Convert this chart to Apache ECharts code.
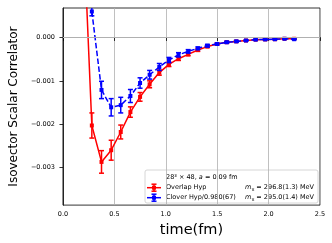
<!DOCTYPE html>
<html><head><meta charset="utf-8">
<script src="https://cdn.jsdelivr.net/npm/echarts@6/dist/echarts.min.js"></script>
<style>html,body{margin:0;padding:0;background:#fff}#c{width:332px;height:243px}</style>
</head><body><div id="c"></div>
<script>
// time values (fm)
var tOverlap = [0.187,0.281,0.375,0.469,0.562,0.656,0.750,0.843,0.937,1.031,1.124,1.218,1.312,1.405,1.499,1.593,1.686,1.780,1.874,1.967,2.061,2.155,2.249];
var overlapVals = [0.0032,-0.00203,-0.00287,-0.00260,-0.00218,-0.00172,-0.00137,-0.00108,-0.00081,-0.00062,-0.00049,-0.00039,-0.00029,-0.00021,-0.00015,-0.00011,-0.00009,-0.00007,-0.00005,-0.000045,-0.00004,-0.00003,-0.00003];
var overlapErr = [0.0003,0.00029,0.00026,0.00023,0.00016,0.00012,0.00010,0.00008,0.00006,0.00005,0.00004,0.00003,0.00003,0.00002,0.00002,0.00002,0.00001,0.00001,0.00001,0.00001,0.00001,0.00001,0.00001];
var tClover = [0.281,0.375,0.469,0.562,0.656,0.750,0.843,0.937,1.031,1.124,1.218,1.312,1.405,1.499,1.593,1.686,1.780,1.874,1.967,2.061,2.155,2.249];
var cloverVals = [0.0006,-0.00121,-0.00161,-0.00156,-0.00135,-0.00105,-0.00086,-0.00068,-0.00052,-0.00040,-0.00032,-0.00025,-0.00019,-0.00015,-0.00011,-0.00009,-0.00007,-0.00005,-0.000045,-0.00004,-0.00003,-0.00004];
var cloverErr = [0.0001,0.00020,0.00020,0.00018,0.00015,0.00012,0.00010,0.00008,0.00006,0.00005,0.00004,0.00003,0.00003,0.00002,0.00002,0.00002,0.00001,0.00001,0.00001,0.00001,0.00001,0.00001];
var xTicks = [0, 0.5, 1.0, 1.5, 2.0, 2.5];
var yTicks = [-0.003, -0.002, -0.001, 0.000];
var legendTitle = '28³ × 48, ';
var seriesNames = ['Overlap Hyp', 'Clover Hyp/0.980(67)'];
var massTexts = ['296.8(1.3) MeV', '295.0(1.4) MeV'];

var FONT = 'DejaVu Sans';
var RED = '#ff0000', BLUE = '#0000ff';

function pairs(t, v, e) { return t.map(function (x, i) { return [x, v[i], e[i]]; }); }

function errRender(color) {
  return function (params, api) {
    var x = api.value(0), y = api.value(1), e = api.value(2);
    var top = api.coord([x, y + e]), bot = api.coord([x, y - e]);
    var cw = 2.5;
    var st = { stroke: color, lineWidth: 1.5 };
    return { type: 'group', children: [
      { type: 'line', shape: { x1: top[0], y1: top[1], x2: bot[0], y2: bot[1] }, style: st },
      { type: 'line', shape: { x1: top[0] - cw, y1: top[1], x2: top[0] + cw, y2: top[1] }, style: st },
      { type: 'line', shape: { x1: bot[0] - cw, y1: bot[1], x2: bot[0] + cw, y2: bot[1] }, style: st }
    ]};
  };
}

function fmtY(v) {
  var s = Math.abs(v).toFixed(3);
  return (v < -1e-9 ? '\u2212' : '') + s;
}

var chart = echarts.init(document.getElementById('c'), null, { renderer: 'canvas' });
var gridLeft = 53.3, gridTop = 8, gridRight = 12, gridBottom = 36;

function legendIcon(cx, cy, color, dashed) {
  return [
    { type: 'line', shape: { x1: cx - 7, y1: cy, x2: cx + 7, y2: cy }, style: { stroke: color, lineWidth: 1.5, lineDash: dashed ? [4, 2] : null } },
    { type: 'line', shape: { x1: cx, y1: cy - 3.5, x2: cx, y2: cy + 3.5 }, style: { stroke: color, lineWidth: 1.5 } },
    { type: 'line', shape: { x1: cx - 2.5, y1: cy - 3.5, x2: cx + 2.5, y2: cy - 3.5 }, style: { stroke: color, lineWidth: 1.5 } },
    { type: 'line', shape: { x1: cx - 2.5, y1: cy + 3.5, x2: cx + 2.5, y2: cy + 3.5 }, style: { stroke: color, lineWidth: 1.5 } },
    { type: 'rect', shape: { x: cx - 2, y: cy - 2, width: 4, height: 4 }, style: { fill: color } }
  ];
}

var legFont = 6.5;
var richM = {
  i: { fontFamily: FONT, fontSize: legFont, fontStyle: 'italic', fill: '#000' },
  s: { fontFamily: FONT, fontSize: 4.8, fill: '#000', padding: [4, 0, 0, 0] },
  n: { fontFamily: FONT, fontSize: legFont, fill: '#000' }
};

var option = {
  animation: false,
  backgroundColor: '#fff',
  grid: { left: gridLeft, right: gridRight, top: gridTop, bottom: gridBottom, show: true, borderColor: '#000', borderWidth: 0.8, backgroundColor: 'transparent' },
  xAxis: {
    type: 'value', min: 0, max: 2.5, interval: 0.5,
    name: 'time(fm)', nameLocation: 'middle', nameGap: 13,
    nameTextStyle: { fontFamily: FONT, fontSize: 14.5, color: '#000' },
    axisLine: { show: true, lineStyle: { color: '#000', width: 0.8 } },
    axisTick: { show: true, inside: false, length: 3.5, lineStyle: { color: '#000', width: 0.8 } },
    axisLabel: { fontFamily: FONT, fontSize: 6.5, color: '#000', margin: 6, formatter: function (v) { return v.toFixed(1); } },
    splitLine: { show: true, lineStyle: { color: '#b0b0b0', width: 0.8 } }
  },
  yAxis: {
    type: 'value', min: -0.003866, max: 0.00068,
    name: 'Isovector Scalar Correlator', nameLocation: 'middle', nameGap: 35,
    nameTextStyle: { fontFamily: FONT, fontSize: 12, color: '#000' },
    axisLine: { show: true, lineStyle: { color: '#000', width: 0.8 } },
    axisTick: { show: true, length: 3.5, customValues: yTicks, lineStyle: { color: '#000', width: 0.8 } },
    axisLabel: { fontFamily: FONT, fontSize: 6.5, color: '#000', margin: 8, customValues: yTicks, formatter: fmtY },
    splitLine: { show: false }
  },
  series: [
    { type: 'line', data: [], z: 1, silent: true,
      markLine: { silent: true, symbol: ['none', 'none'], label: { show: false },
        lineStyle: { color: '#b0b0b0', width: 0.8, type: 'solid' },
        data: yTicks.map(function (v) { return { yAxis: v }; }) } },
    { type: 'line', name: seriesNames[0], data: pairs(tOverlap, overlapVals, overlapErr), z: 3,
      symbol: 'rect', symbolSize: 4, showSymbol: true, clip: true,
      itemStyle: { color: RED }, lineStyle: { color: RED, width: 1.5 } },
    { type: 'custom', name: seriesNames[0] + ' err', data: pairs(tOverlap, overlapVals, overlapErr), z: 3, clip: true,
      encode: { x: 0, y: 1 }, renderItem: errRender(RED) },
    { type: 'line', name: seriesNames[1], data: pairs(tClover, cloverVals, cloverErr), z: 4,
      symbol: 'rect', symbolSize: 4, showSymbol: true, clip: true,
      itemStyle: { color: BLUE }, lineStyle: { color: BLUE, width: 1.5, type: [5.5, 2.4] } },
    { type: 'custom', name: seriesNames[1] + ' err', data: pairs(tClover, cloverVals, cloverErr), z: 4, clip: true,
      encode: { x: 0, y: 1 }, renderItem: errRender(BLUE) }
  ],
  graphic: [
    { type: 'group', z: 100, children: [
      { type: 'rect', shape: { x: 145, y: 170, width: 173, height: 33, r: 2 }, style: { fill: 'rgba(255,255,255,0.85)', stroke: '#cccccc', lineWidth: 0.8 } },
      { type: 'text', x: 166, y: 177.3, style: { text: '{n|' + legendTitle + '}{i|a}{n| = 0.09 fm}', rich: richM, verticalAlign: 'middle' } },
      { type: 'text', x: 166, y: 187.7, style: { text: seriesNames[0], fontFamily: FONT, fontSize: legFont, fill: '#000', verticalAlign: 'middle' } },
      { type: 'text', x: 314, y: 187.7, style: { text: '{i|m}{s|π}{n| = ' + massTexts[0] + '}', rich: richM, align: 'right', verticalAlign: 'middle' } },
      { type: 'text', x: 166, y: 197.7, style: { text: seriesNames[1], fontFamily: FONT, fontSize: legFont, fill: '#000', verticalAlign: 'middle' } },
      { type: 'text', x: 314, y: 197.7, style: { text: '{i|m}{s|π}{n| = ' + massTexts[1] + '}', rich: richM, align: 'right', verticalAlign: 'middle' } }
    ].concat(legendIcon(154, 187.7, RED, false)).concat(legendIcon(154, 197.7, BLUE, false)) }
  ]
};
chart.setOption(option);
</script>
</body></html>
